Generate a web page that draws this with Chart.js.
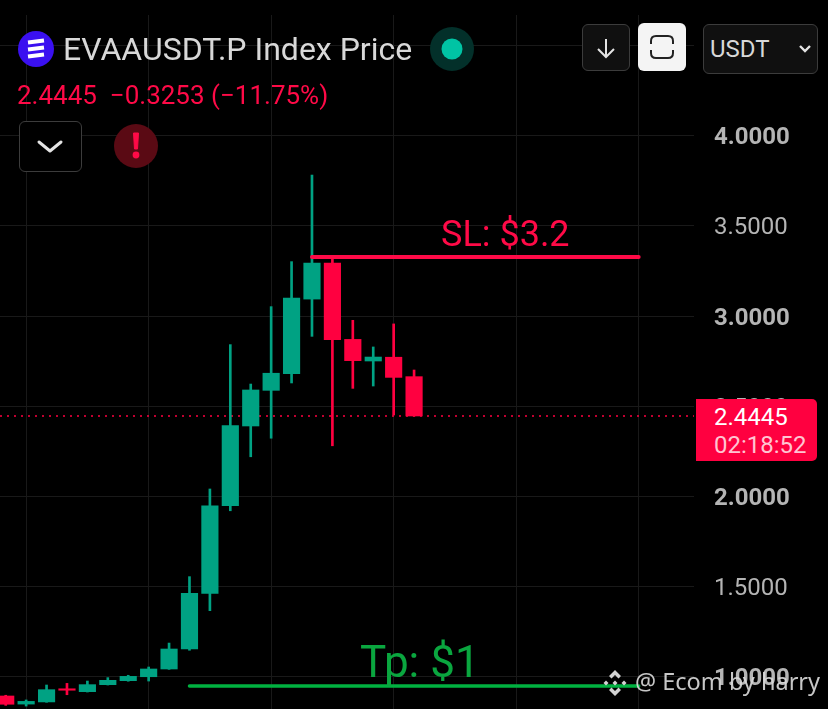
<!DOCTYPE html>
<html>
<head>
<meta charset="utf-8">
<script src="https://cdn.jsdelivr.net/npm/chart.js@4"></script>
<style>
  html, body { margin: 0; padding: 0; background: #000; }
  #wrap { position: relative; width: 828px; height: 709px; overflow: hidden; background: #000; font-family: Roboto, sans-serif; }
  canvas { position: absolute; left: 0; top: 0; }
  .abs { position: absolute; white-space: nowrap; line-height: 1; }
  .box { position: absolute; box-sizing: border-box; border: 1.5px solid #3c3c3c; border-radius: 6px; background: #101010; }
  svg { position: absolute; }
</style>
</head>
<body>
<div id="wrap">
  <canvas id="chart" width="828" height="709"></canvas>

  <svg style="left:18px;top:31px" width="36" height="36" viewBox="0 0 36 36">
    <circle cx="18" cy="18" r="18" fill="#3a10f0"/>
    <path d="M10 11.5L26 9.5M10 18.5L26 16.5M10 25.5L26 23.5" stroke="#fff" stroke-width="4" fill="none"/>
  </svg>
  <div class="abs" style="left:63px;top:33px;font-size:32px;color:#d8d8d8">EVAAUSDT.P Index Price</div>
  <svg style="left:430px;top:27px" width="44" height="44">
    <circle cx="22" cy="22" r="22" fill="#03302a"/>
    <circle cx="22" cy="22" r="10.5" fill="#00c4a4"/>
  </svg>
  <div class="abs" style="left:17px;top:82px;font-size:26px;color:#ff0a47">2.4445&nbsp; −0.3253 (−11.75%)</div>

  <div class="box" style="left:19px;top:121px;width:63px;height:51px;background:#000"></div>
  <svg style="left:36px;top:138px" width="28" height="18">
    <path d="M3 4L14 13L25 4" stroke="#e4e4e4" stroke-width="3" fill="none" stroke-linecap="round" stroke-linejoin="round"/>
  </svg>
  <svg style="left:114px;top:124px" width="44" height="44">
    <circle cx="22" cy="22" r="22" fill="#5a0a14"/>
    <path d="M19.5 9H24.5L23.5 25H20.5Z" fill="#ff0a47" stroke="#ff0a47" stroke-linejoin="round"/>
    <circle cx="22" cy="31" r="3.4" fill="#ff0a47"/>
  </svg>

  <div class="box" style="left:582px;top:24px;width:48px;height:47px"></div>
  <svg style="left:594px;top:36px" width="24" height="24">
    <path d="M12 3V21M4 13L12 21L20 13" stroke="#e4e4e4" stroke-width="2" fill="none"/>
  </svg>
  <div class="box" style="left:638px;top:23px;width:48px;height:48px;background:#f4f4f4;border:none"></div>
  <svg style="left:650px;top:35px" width="24" height="24">
    <path d="M1 9V6Q1 1 6 1H18Q23 1 23 6V9M1 15V18Q1 23 6 23H18Q23 23 23 18V15" stroke="#222" stroke-width="2" fill="none"/>
  </svg>
  <div class="box" style="left:703px;top:24px;width:115px;height:50px"></div>
  <div class="abs" style="left:710px;top:37px;font-size:24px;color:#d8d8d8">USDT</div>
  <svg style="left:798px;top:44px" width="14" height="10">
    <path d="M2 2L7 7L12 2" stroke="#e4e4e4" stroke-width="2.4" fill="none"/>
  </svg>

  <div class="abs" style="left:441px;top:216px;font-size:36px;color:#ff0a47">SL: $3.2</div>
  <div class="abs" style="left:360px;top:640px;font-size:44px;color:#0aa63f">Tp: $1</div>

  <div style="position:absolute;left:696px;top:399px;width:121px;height:62px;background:#ff0040;border-radius:0 5px 5px 0"></div>
  <div class="abs" style="left:714px;top:405px;font-size:24px;color:#fff">2.4445</div>
  <div class="abs" style="left:714px;top:433px;font-size:24px;color:#ffc4d2">02:18:52</div>

  <svg style="left:601px;top:669px" width="28" height="28" viewBox="0 0 28 28" fill="#d4d4d4">
    <path d="M14 1L20 7L17.5 9.5L14 6L10.5 9.5L8 7Z"/>
    <path d="M14 27L20 21L17.5 18.5L14 22L10.5 18.5L8 21Z"/>
    <path d="M5 11.5L7.5 14L5 16.5L2.5 14Z"/>
    <path d="M23 11.5L25.5 14L23 16.5L20.5 14Z"/>
    <path d="M14 11.5L16.5 14L14 16.5L11.5 14Z"/>
  </svg>
  <div class="abs" style="left:635px;top:670px;font-family:'Noto Sans',sans-serif;font-size:23.5px;color:#d8d8d8;opacity:.92">@ Ecom by harry</div>
</div>

<script>
  // candle positions, no dates are visible on the picture
  const candles = [0, 1, 2, 3, 4, 5, 6, 7, 8, 9, 10, 11, 12, 13, 14, 15, 16, 17, 18, 19, 20];
  const opens = [0.889, 0.844, 0.856, 0.929, 0.913, 0.952, 0.974, 0.996, 1.039, 1.150, 1.459, 1.946, 2.389, 2.587, 2.679, 3.094, 3.294, 2.870, 2.750, 2.771, 2.663];
  const closes = [0.843, 0.859, 0.924, 0.921, 0.952, 0.976, 0.998, 1.039, 1.150, 1.459, 1.946, 2.391, 2.589, 2.682, 3.100, 3.294, 2.868, 2.752, 2.772, 2.659, 2.4445];
  const highs = [0.893, 0.867, 0.950, 0.959, 0.972, 0.991, 1.004, 1.050, 1.183, 1.552, 2.039, 2.841, 2.622, 3.052, 3.302, 3.783, 3.333, 2.976, 2.828, 2.956, 2.700];
  const lows = [0.837, 0.833, 0.854, 0.896, 0.911, 0.950, 0.971, 0.972, 1.037, 1.143, 1.363, 1.918, 2.218, 2.321, 2.628, 2.887, 2.279, 2.598, 2.611, 2.450, 2.4445];

  const gridCandles = [1, 7, 13, 19, 25, 31];
  const boldTicks = [1, 2, 3, 4];
  const lastPrice = 2.4445;
  const stopLoss = [15, 31, 3.328];
  const takeProfit = [9, 31, 0.944];

  const GREEN = "#00a283";
  const RED = "#ff0040";
  const candleColors = candles.map(i => (closes[i] >= opens[i] ? GREEN : RED));

  const flatLine = (fromX, toX, y) => [{ x: fromX, y }, { x: toX, y }];

  new Chart(document.getElementById("chart").getContext("2d"), {
    data: {
      datasets: [
        {
          type: "line",
          data: flatLine(-0.28, 33.71, lastPrice),
          borderColor: RED,
          borderWidth: 1.5,
          borderDash: [2, 5],
          pointRadius: 0,
          order: 5
        },
        {
          type: "bar",
          data: candles.map(i => ({ x: i, y: [lows[i], highs[i]] })),
          backgroundColor: candleColors,
          barThickness: 2,
          grouped: false,
          order: 4
        },
        {
          type: "bar",
          data: candles.map(i => ({ x: i, y: [opens[i], closes[i]] })),
          backgroundColor: candleColors,
          barThickness: 16.5,
          grouped: false,
          order: 3
        },
        {
          type: "line",
          data: flatLine(stopLoss[0], stopLoss[1], stopLoss[2]),
          borderColor: "#ff0a47",
          borderWidth: 4,
          borderCapStyle: "round",
          pointRadius: 0,
          order: 2
        },
        {
          type: "line",
          data: flatLine(takeProfit[0], takeProfit[1], takeProfit[2]),
          borderColor: "#00b140",
          borderWidth: 3.5,
          borderCapStyle: "round",
          pointRadius: 0,
          order: 1
        }
      ]
    },
    options: {
      responsive: false,
      animation: false,
      layout: { padding: { top: 15 } },
      plugins: {
        legend: { display: false },
        tooltip: { enabled: false }
      },
      scales: {
        x: {
          type: "linear",
          offset: false,
          min: -0.28,
          max: 33.71,
          afterBuildTicks: scale => {
            scale.ticks = gridCandles.map(value => ({ value }));
          },
          afterFit: scale => {
            scale.height = 0;
            scale.paddingLeft = 0;
            scale.paddingRight = 0;
          },
          ticks: { display: false },
          border: { display: false },
          grid: { color: "#191919", lineWidth: 1, drawTicks: false, offset: false }
        },
        y: {
          position: "right",
          min: 0.8167,
          max: 4.6722,
          // keep the plot running to the bottom edge, labels are allowed to overflow
          afterFit: scale => {
            scale.width = 134;
            scale.paddingTop = 0;
            scale.paddingBottom = 0;
          },
          ticks: {
            stepSize: 0.5,
            includeBounds: false,
            padding: 20,
            labelOffset: 2.5,
            color: "#b4b4b4",
            font: ctx => ({
              family: "Roboto",
              size: 24,
              weight: ctx.tick && boldTicks.includes(ctx.tick.value) ? "bold" : "normal"
            }),
            callback: value => value.toFixed(4)
          },
          border: { display: false },
          grid: { color: "#191919", lineWidth: 1, drawTicks: false }
        }
      }
    }
  });
</script>
</body>
</html>
